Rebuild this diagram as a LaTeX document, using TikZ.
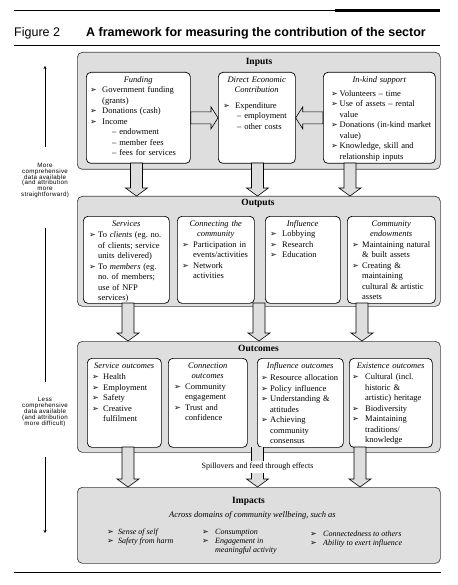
\documentclass[tikz,border=0pt]{standalone}
\usepackage{fontspec}
\setmainfont{Liberation Serif}
\setsansfont{Liberation Sans}
\newfontfamily\dv{DejaVu Sans}
\usepackage{array}
\usetikzlibrary{arrows.meta,calc}
\definecolor{stip}{gray}{0.87}
\frenchspacing
\newcommand\bul{{\upshape\dv\fontsize{8}{8}\selectfont ➢}}
\newcommand\ttl[1]{{\centering\itshape\strut #1\par}}
\newcommand\dblk[2]{\draw[blk] let \p1=(#1), \p2=(#2) in
  (\x1-6pt,\y1) -- (\x1-6pt,\y2+8pt) -- (\x1-11pt,\y2+8pt) -- (\x1,\y2) --
  (\x1+11pt,\y2+8pt) -- (\x1+6pt,\y2+8pt) -- (\x1+6pt,\y1) -- cycle;}
\newcommand\hblk[2]{\draw[blk] let \p1=(#1), \p2=(#2), \n1={(\x2>\x1)?1:-1} in
  (\x1,\y1+6pt) -- (\x2-\n1*7pt,\y1+6pt) -- (\x2-\n1*7pt,\y1+11pt) -- (\x2,\y1) --
  (\x2-\n1*7pt,\y1-11pt) -- (\x2-\n1*7pt,\y1-6pt) -- (\x1,\y1-6pt) -- cycle;}
\tikzset{
  outer/.style={draw=black!75, line width=0.7pt, fill=stip, rounded corners=5pt, anchor=north west, inner sep=0pt},
  inner/.style={draw=black, line width=0.7pt, fill=white, rounded corners=4.5pt, anchor=north west, inner sep=0pt},
  blk/.style={draw=black, line width=0.6pt, fill=stip},
  lbl/.style={font=\fontsize{9.5}{11}\selectfont\bfseries, inner sep=0pt},
  body/.style={inner xsep=0pt, inner ysep=2.5pt, anchor=north west, align=left,
    font=\fontsize{8.5}{10.5}\selectfont\frenchspacing},
  side/.style={font=\sffamily\fontsize{6.2}{5.9}\selectfont\addfontfeature{LetterSpace=5}, align=center, inner sep=0pt},
  rule/.style={line width=0.6pt},
}
\begin{document}
\begin{tikzpicture}[x=1pt,y=-1pt]
\useasboundingbox (0,0) rectangle (457,585);
% header
\draw[rule] (14,10.3) -- (335,10.3);
\fill (335,9) rectangle (440,12.5);
\node[font=\sffamily\fontsize{12.5}{14}\selectfont, anchor=base west, inner sep=0pt] (fig) at (14,37) {Figure 2};
\node[font=\sffamily\bfseries\fontsize{12.5}{14}\selectfont, anchor=base west, inner sep=0pt] (title) at (86,37) {A framework for measuring the contribution of the sector};
\draw[rule] (14,45) -- (440,45);
\draw[rule] (14,572) -- (441,572);

% outer boxes
\node[outer, minimum width=363pt, minimum height=117pt] (inputs) at (77,52) {};
\node[outer, minimum width=363pt, minimum height=110pt] (outputs) at (77,196) {};
\node[outer, minimum width=363pt, minimum height=111pt] (outcomes) at (77,341) {};
\node[outer, minimum width=363pt, minimum height=76pt] (impacts) at (77,487) {};
\node[lbl] (inputsL) at (259,62) {Inputs};
\node[lbl] (outputsL) at (258,203) {Outputs};
\node[lbl] (outcomesL) at (258.5,348) {Outcomes};
\node[lbl] (impactsL) at (248.5,501) {Impacts};

% ---- Inputs
\node[inner, minimum width=104pt, minimum height=91pt] (fund) at (86,72) {};
\node[inner, minimum width=77pt, minimum height=91pt] (direct) at (218,72) {};
\node[inner, minimum width=112pt, minimum height=91pt] (inkind) at (323,72) {};
\node[body, text width=104pt] (fundT) at (fund.north west) {\ttl{Funding}
\noindent\hspace*{4pt}\begin{tabular}[t]{@{}p{12pt}@{}l@{}}
\bul & Government funding\\
 & (grants)\\
\bul & Donations (cash)\\
\bul & Income\\
 & \hspace*{10pt}-- endowment\\
 & \hspace*{10pt}-- member fees\\
 & \hspace*{10pt}-- fees for services
\end{tabular}};
\node[body, text width=77pt] (directT) at (direct.north west) {\ttl{Direct Economic\\Contribution}\vspace{5pt}
\noindent\hspace*{5pt}\begin{tabular}[t]{@{}p{12pt}@{}l@{}}
\bul & Expenditure\\
 & \hspace*{2pt}-- employment\\
 & \hspace*{2pt}-- other costs
\end{tabular}};
\node[body, text width=112pt] (inkindT) at (inkind.north west) {\ttl{In-kind support}\vspace{3.5pt}
\noindent\hspace*{8pt}\begin{tabular}[t]{@{}p{8.5pt}@{}l@{}}
\bul & Volunteers -- time\\
\bul & Use of assets -- rental\\
 & value\\
\bul & Donations (in-kind market\\
 & value)\\
\bul & Knowledge, skill and\\
 & relationship inputs
\end{tabular}};
\hblk{fund.east}{direct.west}
\hblk{inkind.west}{direct.east}

% arrows inputs -> outputs
\coordinate (a1s) at (136.5,163); \coordinate (a1e) at (136.5,196);
\coordinate (a2s) at (257.5,163); \coordinate (a2e) at (257.5,196);
\coordinate (a3s) at (350,163);   \coordinate (a3e) at (350,196);
\dblk{a1s}{a1e} \dblk{a2s}{a2e} \dblk{a3s}{a3e}

% ---- Outputs
\node[inner, minimum width=86pt, minimum height=87pt] (serv) at (83,216) {};
\node[inner, minimum width=77pt, minimum height=87pt] (conn) at (177,216) {};
\node[inner, minimum width=75pt, minimum height=87pt] (infl) at (265,216) {};
\node[inner, minimum width=88pt, minimum height=87pt] (comm) at (347,216) {};
\node[body, text width=86pt] (servT) at (serv.north west) {\ttl{Services}\vspace{1pt}
\noindent\hspace*{6pt}\begin{tabular}[t]{@{}p{9pt}@{}l@{}}
\bul & To \textit{clients} (eg. no.\\
 & of clients; service\\
 & units delivered)\\
\bul & To \textit{members} (eg.\\
 & no. of members;\\
 & use of NFP\\
 & services)
\end{tabular}};
\node[body, text width=77pt] (connT) at (conn.north west) {\ttl{Connecting the\\community}
\noindent\hspace*{5pt}\begin{tabular}[t]{@{}p{11pt}@{}l@{}}
\bul & Participation in\\
 & events/activities\\
\bul & Network\\
 & activities
\end{tabular}};
\node[body, text width=75pt] (inflT) at (infl.north west) {\ttl{Influence}
\noindent\hspace*{5pt}\begin{tabular}[t]{@{}p{12pt}@{}l@{}}
\bul & Lobbying\\
\bul & Research\\
\bul & Education
\end{tabular}};
\node[body, text width=88pt] (commT) at (comm.north west) {\ttl{Community\\endowments}
\noindent\hspace*{5pt}\begin{tabular}[t]{@{}p{10pt}@{}l@{}}
\bul & Maintaining natural\\
 & \& built assets\\
\bul & Creating \&\\
 & maintaining\\
 & cultural \& artistic\\
 & assets
\end{tabular}};

% arrows outputs -> outcomes
\coordinate (b1s) at (128,303); \coordinate (b1e) at (128,341);
\coordinate (b2s) at (259,303); \coordinate (b2e) at (259,341);
\coordinate (b3s) at (362,303); \coordinate (b3e) at (362,341);
\dblk{b1s}{b1e} \dblk{b2s}{b2e} \dblk{b3s}{b3e}

% ---- Outcomes
\node[inner, minimum width=74pt, minimum height=89pt] (sout) at (87,358) {};
\node[inner, minimum width=79pt, minimum height=89pt] (cout) at (168,358) {};
\node[inner, minimum width=86pt, minimum height=89pt] (iout) at (257,358) {};
\node[inner, minimum width=83pt, minimum height=89pt] (eout) at (349,358) {};
\node[body, text width=74pt] (soutT) at (sout.north west) {\ttl{Service outcomes}\vspace{1pt}
\noindent\hspace*{5pt}\begin{tabular}[t]{@{}p{11pt}@{}l@{}}
\bul & Health\\
\bul & Employment\\
\bul & Safety\\
\bul & Creative\\
 & fulfilment
\end{tabular}};
\node[body, text width=79pt] (coutT) at (cout.north west) {\ttl{Connection\\outcomes}
\noindent\hspace*{6pt}\begin{tabular}[t]{@{}p{11pt}@{}l@{}}
\bul & Community\\
 & engagement\\
\bul & Trust and\\
 & confidence
\end{tabular}};
\node[body, text width=86pt] (ioutT) at (iout.north west) {\ttl{Influence outcomes}\vspace{2pt}
\noindent\hspace*{4pt}\begin{tabular}[t]{@{}p{9pt}@{}l@{}}
\bul & Resource allocation\\
\bul & Policy influence\\
\bul & Understanding \&\\
 & attitudes\\
\bul & Achieving\\
 & community\\
 & consensus
\end{tabular}};
\node[body, text width=83pt] (eoutT) at (eout.north west) {\ttl{Existence outcomes}\vspace{1pt}
\noindent\hspace*{3pt}\begin{tabular}[t]{@{}p{13pt}@{}l@{}}
\bul & Cultural (incl.\\
 & historic \&\\
 & artistic) heritage\\
\bul & Biodiversity\\
\bul & Maintaining\\
 & traditions/\\
 & knowledge
\end{tabular}};

% arrows outcomes -> impacts
\coordinate (c1s) at (128,447); \coordinate (c1e) at (128,487);
\coordinate (c3s) at (360,447); \coordinate (c3e) at (360,487);
\dblk{c1s}{c1e} \dblk{c3s}{c3e}
\node[font=\fontsize{8}{10}\selectfont, inner sep=1pt] (spill) at (257.5,467) {Spillovers and feed through effects};
\coordinate (c2s) at (257.5,447); \coordinate (c2m) at (257.5,461);
\coordinate (c2n) at (257.5,473); \coordinate (c2e) at (257.5,487);
\fill[stip] ($(c2s)+(-6,0)$) rectangle ($(c2m)+(6,0)$);
\draw[line width=0.6pt] ($(c2s)+(-6,0)$) -- ($(c2m)+(-6,0)$) ($(c2s)+(6,0)$) -- ($(c2m)+(6,0)$);
\fill[stip] ($(c2n)+(-6,0)$) -- ($(c2e)+(-6,-8)$) -- ($(c2e)+(-11,-8)$) -- (c2e) -- ($(c2e)+(11,-8)$) -- ($(c2e)+(6,-8)$) -- ($(c2n)+(6,0)$) -- cycle;
\draw[line width=0.6pt] ($(c2n)+(-6,0)$) -- ($(c2e)+(-6,-8)$) -- ($(c2e)+(-11,-8)$) -- (c2e) -- ($(c2e)+(11,-8)$) -- ($(c2e)+(6,-8)$) -- ($(c2n)+(6,0)$);

% ---- Impacts
\node[font=\itshape\fontsize{8.5}{10}\selectfont, inner sep=0pt] (across) at (252.5,515) {Across domains of community wellbeing, such as};
\node[anchor=base west, inner sep=0pt, font=\itshape\fontsize{8}{9}\selectfont] (imp1) at (107,534.5) {\begin{tabular}[t]{@{}p{11pt}@{}l@{}}
\bul & Sense of self\\
\bul & Safety from harm
\end{tabular}};
\node[anchor=base west, inner sep=0pt, font=\itshape\fontsize{8}{9}\selectfont] (imp2) at (202,534.5) {\begin{tabular}[t]{@{}p{13pt}@{}l@{}}
\bul & Consumption\\
\bul & Engagement in\\
 & meaningful activity
\end{tabular}};
\node[anchor=base west, inner sep=0pt, font=\itshape\fontsize{8}{9}\selectfont] (imp3) at (310,536.5) {\begin{tabular}[t]{@{}p{13pt}@{}l@{}}
\bul & Connectedness to others\\
\bul & Ability to exert influence
\end{tabular}};

% ---- left scale
\node[side] (more) at (45,180.5) {More\\comprehensive\\data available\\(and attribution\\more\\straightforward)};
\node[side] (less) at (45,412) {Less\\comprehensive\\data available\\(and attribution\\more difficult)};
\coordinate (L1) at (45,66); \coordinate (L2) at (45,147);
\coordinate (L3) at (45,228); \coordinate (L4) at (45,382);
\coordinate (L5) at (45,457); \coordinate (L6) at (45,533);
\draw[line width=0.6pt, {Stealth[length=3pt,width=3pt]}-] (L1) -- (L2);
\draw[line width=0.6pt] (L3) -- (L4);
\draw[line width=0.6pt, -{Stealth[length=3pt,width=3pt]}] (L5) -- (L6);
\end{tikzpicture}
\end{document}
